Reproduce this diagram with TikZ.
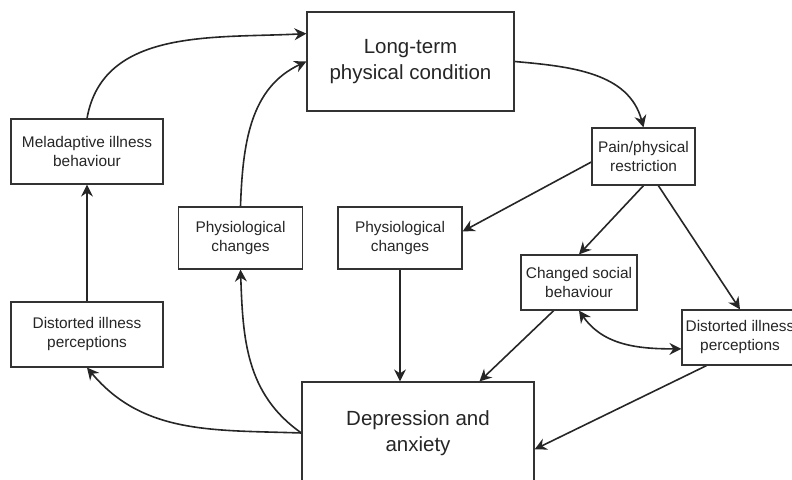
\documentclass[tikz,border=0pt]{standalone}
\usepackage{fontspec}
\setmainfont{Liberation Sans}
\usetikzlibrary{arrows.meta}
\pgfdeclarelayer{bg}
\pgfsetlayers{bg,main}
\tikzset{
    every node/.style={draw=black!80, line width=1.2pt, fill=white, align=center,
        inner sep=0pt, text=black!85, font=\fontsize{15.4}{19}\selectfont},
    big/.style={font=\fontsize{20.5}{25.5}\selectfont},
    >={Stealth[length=12pt, width=12pt, inset=4pt]},
    every edge/.append style={draw=black!85, line width=1.6pt, ->}
}

\begin{document}
\begin{tikzpicture}
  \useasboundingbox (0pt, 0pt) rectangle (792pt, 479pt);

  \node (lt) [big, minimum width=207pt, minimum height=99pt] at (410.5pt, 417.5pt) {Long-term\\physical condition};

  \node (mel) [minimum width=152pt, minimum height=65pt] at (87pt, 327.5pt) {Meladaptive illness\\behaviour};
  \node (dil) [minimum width=152pt, minimum height=65pt] at (87pt, 144.5pt) {Distorted illness\\perceptions};

  \node (phl) [minimum width=124pt, minimum height=62pt] at (240.5pt, 241pt) {Physiological\\changes};
  \node (phm) [minimum width=124pt, minimum height=62pt] at (400pt, 241pt) {Physiological\\changes};

  \node (pain) [minimum width=103pt, minimum height=57pt] at (643.5pt, 322.5pt) {Pain/physical\\restriction};
  \node (csb) [minimum width=116pt, minimum height=55pt] at (579pt, 196.5pt) {Changed social\\behaviour};
  \node (dir) [minimum width=116pt, minimum height=55pt] at (740pt, 141.5pt) {Distorted illness\\perceptions};

  \node (dep) [big, minimum width=232pt, minimum height=102pt] at (418pt, 46pt) {Depression and\\anxiety};

  \begin{pgfonlayer}{bg}
	  \draw (mel.north) edge [out=80, in=183] (lt.165);
	  \draw (phl.north) edge [out=88, in=205] (lt.west);
	  \draw (lt.east) edge [out=-5, in=105] (pain.north);

	  \draw (pain.186) edge (phm.6);
	  \draw (pain.south) edge (csb.north); \draw (pain.-63) edge (dir.north);

	  \draw (dil.north) edge (mel.south);

	  \draw (dep.west) edge [out=178, in=-50] (dil.south);
	  \draw (dep.west) edge [out=145, in=-88] (phl.south);

	  \draw (phm.south) edge (phm.south |- dep.north);
	  \draw (csb.-132) edge (dep.40);
	  \draw (csb.south) edge [<->, out=-55, in=180] (dir.191);
	  \draw (dir.-140) edge (dep.-8);
  \end{pgfonlayer}

\end{tikzpicture}
\end{document}
